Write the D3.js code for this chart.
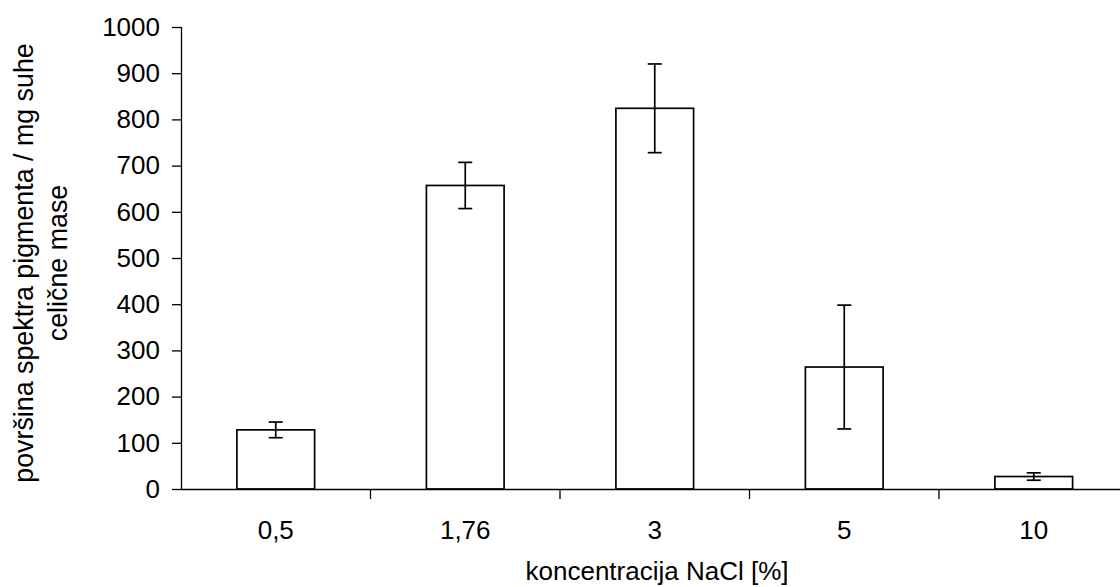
<!DOCTYPE html>
<html>
<head>
<meta charset="utf-8">
<script src="https://cdn.jsdelivr.net/npm/d3@7"></script>
<style>
  html, body { margin: 0; padding: 0; background: #fff; }
  svg { display: block; font-family: "Liberation Sans", Arial, sans-serif; }
</style>
</head>
<body>
<svg id="chart" width="1120" height="587"></svg>
<script>
// NaCl concentration groups and measured pigment spectrum area (mean ± error)
const categories = ["0,5", "1,76", "3", "5", "10"];
const means = [128, 657, 824, 264, 27];
const errors = [17, 50, 96, 134, 8];
const yTicks = [0, 100, 200, 300, 400, 500, 600, 700, 800, 900, 1000];

const svg = d3.select("#chart");
const fontSize = 26;

const plotLeft = 181, plotRight = 1128.5, plotTop = 27, plotBottom = 489;

const x = d3.scaleBand()
  .domain(categories)
  .range([plotLeft, plotRight])
  .paddingInner(0.59)
  .paddingOuter(0.295);

const y = d3.scaleLinear().domain([0, 1000]).range([plotBottom, plotTop]);

// Y axis
const yAxis = svg.append("g")
  .attr("transform", `translate(${plotLeft},0)`)
  .call(d3.axisLeft(y).tickValues(yTicks).tickSize(9).tickPadding(12).tickFormat(d3.format("d")));
yAxis.select(".domain").attr("stroke", "#000").attr("stroke-width", 1.3)
  .attr("d", `M0.5,${y(1000)}V${y(0)}`);
yAxis.selectAll(".tick line").attr("stroke", "#000").attr("stroke-width", 1.3);
yAxis.selectAll(".tick text")
  .attr("font-size", fontSize).attr("fill", "#000")
  .attr("font-family", "Liberation Sans, Arial, sans-serif");

// Bars
svg.append("g").selectAll("rect")
  .data(categories)
  .join("rect")
  .attr("x", (d) => x(d))
  .attr("width", x.bandwidth())
  .attr("y", (d, i) => y(means[i]))
  .attr("height", (d, i) => y(0) - y(means[i]))
  .attr("fill", "#fff")
  .attr("stroke", "#000")
  .attr("stroke-width", 1.7);

// Error bars
const cap = 7;
const eb = svg.append("g").attr("stroke", "#000").attr("stroke-width", 1.7);
categories.forEach((c, i) => {
  const cx = x(c) + x.bandwidth() / 2;
  const hi = y(means[i] + errors[i]);
  const lo = y(means[i] - errors[i]);
  eb.append("line").attr("x1", cx).attr("x2", cx).attr("y1", hi).attr("y2", lo);
  eb.append("line").attr("x1", cx - cap).attr("x2", cx + cap).attr("y1", hi).attr("y2", hi);
  eb.append("line").attr("x1", cx - cap).attr("x2", cx + cap).attr("y1", lo).attr("y2", lo);
});

// X axis: baseline, category boundary ticks, and centred labels
const xAxis = svg.append("g").attr("transform", `translate(0,${plotBottom})`);
xAxis.append("line")
  .attr("x1", plotLeft).attr("x2", plotRight)
  .attr("y1", 0.5).attr("y2", 0.5)
  .attr("stroke", "#000").attr("stroke-width", 1.3);
const step = x.step();
const boundaries = categories.map((c) => x(c) + x.bandwidth() + (step - x.bandwidth()) / 2);
xAxis.selectAll("line.b")
  .data(boundaries)
  .join("line")
  .attr("class", "b")
  .attr("x1", (d) => d).attr("x2", (d) => d)
  .attr("y1", 0).attr("y2", 10)
  .attr("stroke", "#000").attr("stroke-width", 1.3);
xAxis.selectAll("text")
  .data(categories)
  .join("text")
  .attr("x", (d) => x(d) + x.bandwidth() / 2)
  .attr("y", 50)
  .attr("text-anchor", "middle")
  .attr("font-size", fontSize)
  .attr("fill", "#000")
  .text((d) => d);

// Axis titles
svg.append("text")
  .attr("x", 657)
  .attr("y", 580)
  .attr("text-anchor", "middle")
  .attr("font-size", fontSize)
  .attr("fill", "#000")
  .text("koncentracija NaCl [%]");

const yTitle = svg.append("text")
  .attr("transform", "translate(0,263) rotate(-90)")
  .attr("text-anchor", "middle")
  .attr("font-size", 26.8)
  .attr("fill", "#000");
yTitle.append("tspan").attr("x", 0).attr("y", 33).text("površina spektra pigmenta / mg suhe");
yTitle.append("tspan").attr("x", 0).attr("y", 67).text("celične mase");
</script>
</body>
</html>
